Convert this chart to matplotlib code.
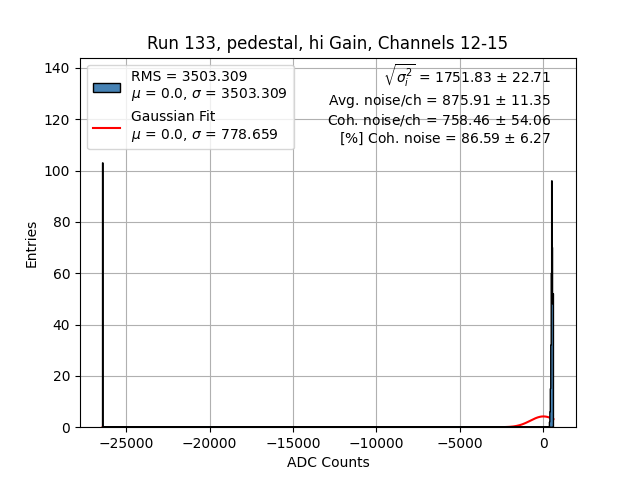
import numpy as np
import matplotlib.pyplot as plt

# histogram content (ADC value, entries)
spike_adc = [-26410]
spike_n = [103]
cluster_adc = [359, 386, 413, 440, 467, 494, 521, 548, 575, 600]
cluster_n = [2, 6, 15, 32, 60, 96, 70, 48, 32, 20]

# gaussian fit parameters
fit_mu = 0.0
fit_sigma = 778.659
fit_amp = 4.2
rms = 3503.309

stats_lines = [
    r"$\sqrt{\sigma_i^2}$ = 1751.83 $\pm$ 22.71",
    r"Avg. noise/ch = 875.91 $\pm$ 11.35",
    r"Coh. noise/ch = 758.46 $\pm$ 54.06",
    r"[%] Coh. noise = 86.59 $\pm$ 6.27",
]

values = np.array(spike_adc + cluster_adc, dtype=float)
weights = np.array(spike_n + cluster_n, dtype=float)
lo, hi = values.min(), values.max() + 2
edges = np.linspace(lo, hi, 1001)

fig, ax = plt.subplots(figsize=(6.4, 4.8), dpi=100)

xs = np.linspace(lo, hi, 1000)
ys = fit_amp * np.exp(-(xs - fit_mu) ** 2 / (2 * fit_sigma ** 2))
ax.plot(xs, ys, color='red',
        label=f"Gaussian Fit\n$\\mu$ = {fit_mu}, $\\sigma$ = {fit_sigma}", zorder=2)

ax.hist(values, bins=edges, weights=weights, histtype='stepfilled',
        facecolor='steelblue', edgecolor='black', linewidth=1,
        label=f"RMS = {rms}\n$\\mu$ = 0.0, $\\sigma$ = {rms}", zorder=3)

handles, labels = ax.get_legend_handles_labels()
ax.legend(handles[::-1], labels[::-1], loc='upper left')

ax.text(0.95, 0.985, "\n".join(stats_lines), transform=ax.transAxes,
        ha='right', va='top')

ax.set_ylim(0, 144)
ax.set_xlabel('ADC Counts')
ax.set_ylabel('Entries')
ax.set_title('Run 133, pedestal, hi Gain, Channels 12-15')
ax.grid(True)

fig.savefig('out.png')
